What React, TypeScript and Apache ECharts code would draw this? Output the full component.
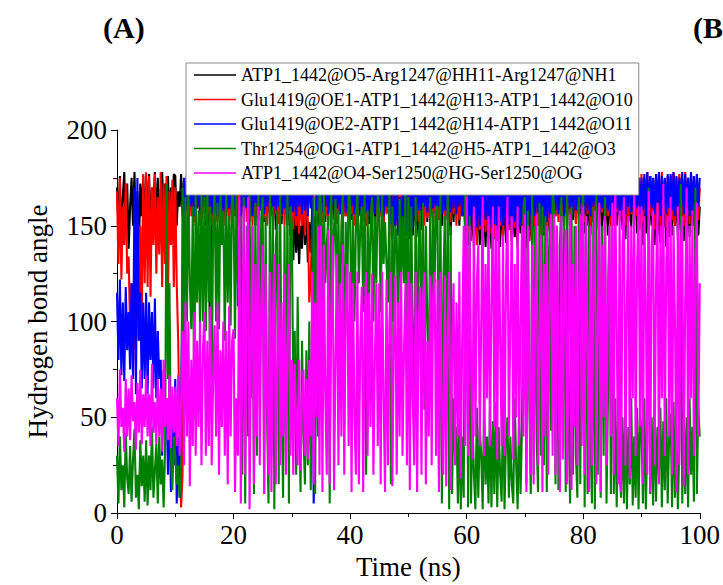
import React, { useEffect, useRef } from "react";
import * as echarts from "echarts";

// Time grid: one sample every 0.25 ns from 0 to 100 ns
const TIME_STEP = 0.25;

const seriesNames = [
  "ATP1_1442@O5-Arg1247@HH11-Arg1247@NH1",
  "Glu1419@OE1-ATP1_1442@H13-ATP1_1442@O10",
  "Glu1419@OE2-ATP1_1442@H14-ATP1_1442@O11",
  "Thr1254@OG1-ATP1_1442@H5-ATP1_1442@O3",
  "ATP1_1442@O4-Ser1250@HG-Ser1250@OG",
];
const seriesColors = ["#000000", "#ff0000", "#0000ff", "#008000", "#ff00ff"];

const xTicks = [0, 20, 40, 60, 80, 100];
const yTicks = [0, 50, 100, 150, 200];

const blackAngle = [
  170,150,176,140,165,178,145,172,138,160,175,150,178,142,168,135,172,155,176,148,
  174,152,177,145,170,160,178,148,175,140,168,178,155,172,150,176,145,170,158,177,
  176,150,168,160,177,155,174,158,176,152,170,178,156,173,150,177,160,175,154,176,
  172,150,177,155,66,170,175,156,178,152,174,160,176,150,177,158,173,155,178,151,
  176,155,178,150,173,158,177,154,175,160,178,152,174,157,176,150,177,155,172,158,
  177,152,174,157,178,150,176,155,172,148,175,158,177,151,174,156,178,150,173,145,
  160,132,158,136,155,130,150,138,165,140,158,131,152,136,160,133,155,140,170,150,
  176,155,178,152,174,158,177,150,175,156,178,153,174,157,176,151,177,155,173,158,
  177,153,175,158,178,150,174,156,177,152,175,157,178,151,173,156,176,150,177,155,
  176,155,178,150,173,157,177,152,165,145,170,150,175,155,168,146,162,143,158,145,
  160,143,162,145,170,150,158,144,165,148,176,155,178,152,173,157,176,150,177,154,
  175,157,177,150,174,156,178,153,172,145,176,152,174,158,177,150,173,155,170,145,
  165,140,168,143,160,138,170,145,162,140,167,142,158,139,166,144,161,138,169,143,
  166,142,170,139,164,145,168,141,172,148,163,140,167,144,160,138,171,146,165,141,
  163,138,167,142,160,140,172,146,175,150,162,139,168,145,158,141,170,147,174,152,
  177,155,174,158,178,152,175,156,177,150,176,157,173,153,178,151,175,156,172,148,
  170,146,175,150,168,145,176,152,173,148,177,155,171,147,175,151,169,145,174,150,
  177,155,174,150,178,156,172,148,175,143,176,152,173,149,177,154,170,146,175,151,
  168,140,174,146,170,142,176,150,165,140,172,145,168,141,175,149,166,139,171,144,
  172,145,177,150,170,143,175,148,168,142,174,147,170,144,176,150,165,140,170,145,
  160,
];

const redAngle = [
  168,130,175,122,160,140,172,125,134,95,120,73,110,85,130,90,150,100,177,120,
  178,118,176,113,170,140,177,125,165,135,178,118,172,130,176,113,168,140,174,118,
  170,120,90,40,3,20,140,155,176,150,178,155,175,152,170,160,177,150,174,156,
  177,152,175,156,178,150,174,158,177,153,176,155,173,150,178,157,175,152,177,156,
  178,156,176,150,177,155,175,158,178,152,174,157,177,150,176,155,178,153,175,158,
  176,154,178,150,175,157,177,152,174,156,178,151,175,155,177,150,173,156,176,152,
  172,148,175,150,170,146,168,150,174,145,170,152,110,125,150,170,176,150,177,155,
  176,152,178,155,174,150,177,157,175,153,178,151,174,156,177,150,175,155,178,152,
  178,156,175,150,177,155,176,158,174,152,177,150,175,156,178,153,174,157,176,151,
  177,155,175,150,178,156,176,145,172,143,175,150,170,145,174,142,168,146,172,148,
  170,144,175,150,177,155,178,152,175,156,173,150,177,154,175,151,178,156,174,150,
  177,153,174,157,178,150,176,155,175,152,178,156,174,150,177,153,175,157,172,148,
  174,145,170,142,176,150,168,140,175,148,171,143,176,147,169,141,174,146,170,144,
  172,143,176,150,170,145,177,152,174,148,170,142,175,149,168,144,176,150,171,146,
  175,150,170,142,176,148,173,145,177,150,169,140,175,147,172,143,176,149,174,152,
  176,155,178,152,174,157,177,150,175,155,178,153,174,156,177,151,175,154,178,152,
  178,152,176,156,175,150,177,155,174,153,178,150,175,157,177,152,174,155,176,150,
  176,150,178,157,174,152,177,155,175,150,178,153,174,156,176,150,177,155,174,148,
  177,152,175,156,178,150,176,155,174,148,177,153,175,150,178,156,174,149,176,152,
  176,153,178,150,175,156,177,152,174,150,178,155,175,151,177,156,174,150,176,153,
  170,
];

const blueAngle = [
  115,80,122,72,110,69,118,85,105,75,120,70,170,62,175,90,115,65,110,70,
  115,62,110,80,105,65,112,60,95,70,80,30,75,45,60,20,70,11,55,25,
  70,5,40,8,60,120,175,158,177,156,176,160,178,155,175,159,177,156,176,160,
  177,157,175,160,178,156,176,158,177,155,175,160,178,157,176,155,177,159,175,156,
  176,158,170,108,140,160,177,156,175,159,178,157,176,155,177,160,175,156,178,158,
  177,156,175,160,178,157,176,155,177,158,175,160,178,156,176,159,177,155,175,158,
  176,157,178,155,177,160,175,156,178,158,176,155,177,159,175,5,40,170,176,158,
  178,157,176,160,177,156,175,158,178,155,176,159,177,156,175,160,178,157,176,155,
  177,160,176,156,178,158,175,155,177,160,176,157,178,155,175,159,177,156,176,160,
  176,157,178,155,177,160,175,150,170,143,168,150,172,145,165,143,170,148,168,145,
  168,145,172,148,176,155,178,158,177,156,175,160,178,157,176,155,177,159,175,156,
  175,160,178,156,176,158,177,155,178,157,176,159,175,156,177,160,178,155,176,158,
  176,150,177,148,175,152,178,149,176,150,177,148,175,153,178,150,176,149,177,151,
  177,148,175,152,178,150,176,148,177,151,175,149,178,152,176,148,177,150,175,153,
  176,150,178,148,175,152,177,155,178,157,176,150,177,148,175,152,178,154,176,156,
  176,158,177,156,175,160,178,155,177,157,176,159,178,156,175,158,177,160,176,155,
  176,156,178,158,175,155,177,160,176,157,178,155,175,159,177,156,176,158,178,155,
  178,156,175,159,177,155,176,158,178,156,175,160,177,157,176,155,178,159,175,156,
  175,158,177,155,178,157,176,159,175,156,177,160,178,155,176,158,175,156,177,159,
  177,158,178,155,176,157,175,160,178,156,177,159,175,155,178,158,176,156,177,160,
  175,
];

const greenAngle = [
  30,5,40,12,25,3,42,18,10,35,6,28,44,8,20,2,38,14,30,6,
  38,4,30,12,45,8,22,36,5,40,15,28,3,33,172,70,120,30,12,40,
  30,15,25,8,20,170,90,165,100,176,120,96,160,62,168,110,158,96,170,100,
  165,95,172,110,160,62,150,168,100,162,96,170,140,158,90,166,110,155,98,172,
  160,91,168,120,100,155,20,165,5,150,40,170,60,150,10,162,30,168,80,155,
  165,10,155,50,5,172,30,160,2,140,158,15,166,60,8,150,25,170,5,160,
  150,60,95,20,113,50,11,90,40,15,85,25,100,12,70,165,10,158,40,170,
  160,108,168,120,140,155,5,172,110,150,164,100,158,90,150,166,45,152,110,170,
  162,80,155,100,150,168,120,150,160,105,172,20,158,110,148,165,100,155,120,168,
  158,105,166,130,152,130,110,170,15,160,100,150,145,90,164,120,155,120,168,80,
  165,54,160,90,60,165,55,140,158,70,162,54,150,100,60,165,70,158,120,160,
  160,20,168,5,120,155,48,172,2,150,10,60,30,45,5,50,2,40,8,165,
  170,3,155,5,50,20,2,55,8,45,30,2,60,15,40,5,55,3,48,10,
  58,3,45,20,6,60,2,38,50,8,40,15,5,60,25,2,55,10,45,160,
  165,15,158,60,10,170,20,150,40,11,162,30,160,25,155,11,120,150,43,168,
  160,15,150,12,140,165,43,155,11,170,50,5,160,20,150,30,8,165,15,158,
  168,3,155,10,150,40,5,160,2,172,20,158,8,150,30,165,5,60,150,10,
  160,10,60,3,55,20,8,50,5,58,2,45,15,60,4,40,8,55,2,50,
  45,5,60,2,38,170,10,50,4,60,6,45,20,55,3,48,12,60,5,40,
  52,3,58,8,45,2,35,172,5,55,10,50,3,60,20,45,6,170,10,55,
  40,
];

const magentaAngle = [
  60,35,75,45,55,32,70,40,65,38,72,48,58,33,68,42,75,36,62,45,
  72,40,62,35,78,42,58,36,70,40,65,32,80,45,60,38,72,34,66,42,
  66,35,72,30,60,95,25,110,40,100,14,80,35,105,30,90,45,100,25,85,
  105,30,90,35,108,25,70,98,40,110,20,85,45,100,30,95,15,108,40,90,
  96,11,60,30,165,5,80,160,20,120,165,2,90,150,15,130,40,160,25,110,
  140,10,130,60,20,126,11,100,135,15,80,130,25,110,40,125,20,90,130,30,
  80,20,78,45,25,80,22,60,75,30,70,28,80,40,126,15,110,50,150,20,
  150,11,140,60,20,148,15,100,145,12,80,135,25,120,40,140,20,110,130,35,
  126,11,120,50,20,126,15,90,118,11,100,126,30,115,45,125,20,80,120,35,
  120,15,126,60,11,122,25,100,126,14,90,124,20,110,40,126,30,85,120,25,
  126,12,120,60,25,126,11,95,118,20,110,126,15,90,40,124,25,115,126,30,
  122,11,126,50,20,124,14,100,126,12,85,120,25,110,40,126,18,95,150,35,
  165,30,150,80,28,160,40,120,140,35,100,165,30,130,60,155,35,110,160,45,
  150,28,160,90,35,145,30,120,165,40,100,155,28,130,50,160,35,100,150,40,
  156,11,150,70,20,140,15,110,156,25,90,145,11,130,40,150,20,120,156,30,
  156,20,150,80,11,155,28,120,148,15,100,156,12,130,45,150,25,110,156,35,
  160,20,155,90,11,150,25,130,158,15,100,162,11,140,50,155,25,120,150,40,
  162,20,170,100,15,158,11,140,165,25,110,155,18,150,60,168,30,130,160,45,
  160,15,155,110,20,168,11,140,158,25,120,162,15,150,60,172,30,130,155,40,
  165,20,150,100,11,160,25,140,155,14,110,170,20,150,60,158,30,130,162,40,
  120,
];

const allValues = [blackAngle, redAngle, blueAngle, greenAngle, magentaAngle];

const FONT = "'Liberation Serif', 'Times New Roman', serif";

export default function App() {
  const ref = useRef<HTMLDivElement>(null);
  useEffect(() => {
    if (!ref.current) return;
    const chart = echarts.init(ref.current, null, { renderer: "svg" });
    const series = allValues.map((vals, si) => ({
      name: seriesNames[si],
      type: "line",
      data: vals.map((v, i) => [i * TIME_STEP, v]),
      showSymbol: false,
      symbol: "none",
      lineStyle: { color: seriesColors[si], width: 2.1 },
      itemStyle: { color: seriesColors[si] },
      silent: true,
      z: 2 + si,
    }));
    chart.setOption({
      animation: false,
      backgroundColor: "#ffffff",
      graphic: [
        {
          type: "text",
          left: 103,
          top: 12,
          style: { text: "(A)", font: `bold 30px ${FONT}`, fill: "#000" },
        },
        {
          type: "text",
          left: 693,
          top: 12,
          style: { text: "(B)", font: `bold 30px ${FONT}`, fill: "#000" },
        },
      ],
      legend: {
        orient: "vertical",
        left: 186,
        top: 63,
        data: seriesNames,
        icon: "rect",
        itemWidth: 42,
        itemHeight: 1.5,
        itemGap: 6.5,
        padding: [3, 6, 13, 8],
        borderColor: "#888888",
        borderWidth: 1,
        backgroundColor: "#ffffff",
        textStyle: { fontFamily: FONT, fontSize: 18, color: "#000", lineHeight: 18 },
        z: 10,
      },
      grid: { left: 117, right: 23, top: 130, bottom: 65, containLabel: false },
      xAxis: {
        type: "value",
        min: 0,
        max: 100,
        interval: 20,
        name: "Time (ns)",
        nameLocation: "middle",
        nameGap: 34,
        nameTextStyle: { fontFamily: FONT, fontSize: 27, color: "#000" },
        axisLine: { show: true, lineStyle: { color: "#000", width: 1 } },
        axisTick: { show: true, inside: false, length: 6, lineStyle: { color: "#000" } },
        minorTick: { show: true, splitNumber: 2, length: 4, lineStyle: { color: "#000" } },
        splitLine: { show: false },
        axisLabel: {
          fontFamily: FONT,
          fontSize: 27,
          color: "#000",
          margin: 8,
          formatter: (v: number) => (xTicks.includes(v) ? String(v) : ""),
        },
      },
      yAxis: {
        type: "value",
        min: 0,
        max: 200,
        interval: 50,
        name: "Hydrogen bond angle",
        nameLocation: "middle",
        nameGap: 66,
        nameTextStyle: { fontFamily: FONT, fontSize: 27, color: "#000" },
        axisLine: { show: true, lineStyle: { color: "#000", width: 1 } },
        axisTick: { show: true, inside: false, length: 6, lineStyle: { color: "#000" } },
        minorTick: { show: true, splitNumber: 2, length: 4, lineStyle: { color: "#000" } },
        splitLine: { show: false },
        axisLabel: {
          fontFamily: FONT,
          fontSize: 27,
          color: "#000",
          margin: 10,
          formatter: (v: number) => (yTicks.includes(v) ? String(v) : ""),
        },
      },
      series,
    });
    return () => chart.dispose();
  }, []);
  return (
    <div
      ref={ref}
      style={{ position: "fixed", left: 0, top: 0, width: 723, height: 585, background: "#fff" }}
    />
  );
}
